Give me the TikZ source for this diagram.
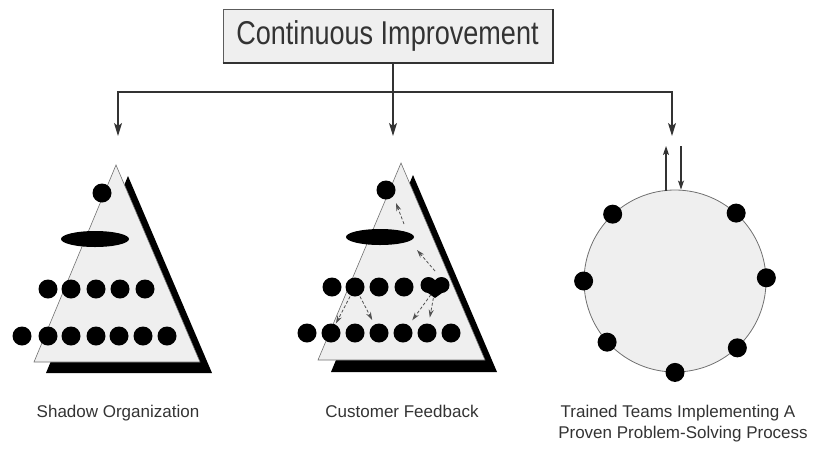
\documentclass[tikz,border=0pt]{standalone}
\usepackage{fontspec}
\setmainfont{Liberation Sans}
\newfontfamily\narrowfont[FakeStretch=0.82]{Liberation Sans}
\usetikzlibrary{arrows.meta,shapes.geometric}
\definecolor{ink}{HTML}{333333}
\definecolor{paper}{HTML}{EFEFEF}
\begin{document}
\begin{tikzpicture}[x=1pt,y=-1pt,
  titlebox/.style={draw=ink!80, line width=1pt, fill=paper, minimum width=329pt,
    minimum height=53pt, inner sep=0pt, text=ink,
    font=\narrowfont\fontsize{33}{36}\selectfont},
  conn/.style={draw=ink, line width=1.4pt},
  arr/.tip={Stealth[length=13pt,width=8pt,inset=3pt]},
  small/.tip={Stealth[length=9pt,width=6pt,inset=2pt]},
  fb/.style={draw=ink!85, line width=0.8pt, densely dashed, -fbtip},
  fbtip/.tip={Stealth[length=8pt,width=5pt]},
  dot/.style={circle, fill=black, minimum size=19pt, inner sep=0pt},
  disk/.style={ellipse, fill=black, minimum width=68pt, minimum height=16pt, inner sep=0pt},
  tri/.style={fill=paper, draw=ink!70, line width=0.6pt},
  caption/.style={text=ink, inner sep=0pt, font=\fontsize{17}{21}\selectfont}]
\useasboundingbox (0,0) rectangle (818,448);
% title
\node[titlebox] (title) at (387.5,35.5) {Continuous Improvement};
\draw[ink, line width=2pt] (title.south west) -- (title.south east) -- (title.north east);
% connectors
\coordinate (j) at (393,92);
\coordinate (al) at (118,136);
\coordinate (am) at (393,136);
\coordinate (ar) at (672,136);
\draw[conn, arr-arr] (al) |- (j) -| (ar);
\draw[conn, -arr] (title.south -| j) -- (am);
% ---------- left pyramid
\fill[black] (128,176) -- (46,373) -- (212,373) -- cycle;
\path[tri] (116,165) -- (34,362) -- (200,362) -- cycle;
\node[dot] (s0) at (102,193) {};
\node[disk] (sd) at (95,239) {};
\foreach \x [count=\i] in {48,71,96,120,145} \node[dot] (sa\i) at (\x,289) {};
\foreach \x [count=\i] in {22,48,71,96,119,143,167} \node[dot] (sb\i) at (\x,336) {};
% ---------- middle pyramid
\fill[black] (413,175) -- (331,372) -- (497,372) -- cycle;
\path[tri] (401,163) -- (318,360) -- (485,360) -- cycle;
\node[dot] (m0) at (386,190) {};
\node[disk] (md) at (380,237) {};
\foreach \x [count=\i] in {332,355,379,404} \node[dot] (ma\i) at (\x,287) {};
\fill[black] (428.5,285) circle (8) (441.5,285) circle (8);
\fill[black] (421,288) -- (449,288) -- (435,298) -- cycle;
\coordinate (heart) at (435,289);
\foreach \x [count=\i] in {307,331,355,379,403,427,451} \node[dot] (mb\i) at (\x,333) {};
% feedback arrows
\coordinate (f1s) at (404,224); \coordinate (f1e) at (396,203);
\coordinate (f2s) at (435,271); \coordinate (f2e) at (417,250);
\draw[fb] (f1s) -- (f1e);
\draw[fb] (f2s) -- (f2e);
\draw[fb, shorten <=1pt, shorten >=1pt] (ma2) -- (mb2);
\draw[fb, shorten <=1pt, shorten >=5pt] (ma2) -- (mb4);
\draw[fb, shorten <=7pt, shorten >=6pt] (heart) -- (mb5);
\draw[fb, shorten <=9pt, shorten >=6pt] (heart) -- (mb6);
% ---------- right circle
\node[circle, draw=ink!70, fill=paper, line width=0.8pt, minimum size=182pt, inner sep=0pt]
  (loop) at (675,281) {};
\foreach \a in {133,48,180,2,222,313,270} \node[dot] at (loop.\a) {};
\coordinate (ups) at (666,191);
\coordinate (upe) at (666,146);
\coordinate (dns) at (681,146);
\draw[conn, line width=1.1pt, -small] (ups) -- (upe);
\draw[conn, line width=1.1pt, -small] (dns) -- (dns |- loop.north);
% ---------- captions
\node[caption, anchor=base] (c1) at (118,417) {Shadow Organization};
\node[caption, anchor=base] (c2) at (402,417) {Customer Feedback};
\node[caption, anchor=base] (c3) at (678,417) {Trained Teams Implementing A};
\node[caption, anchor=base] (c4) at (683,438) {Proven Problem-Solving Process};
\end{tikzpicture}
\end{document}
